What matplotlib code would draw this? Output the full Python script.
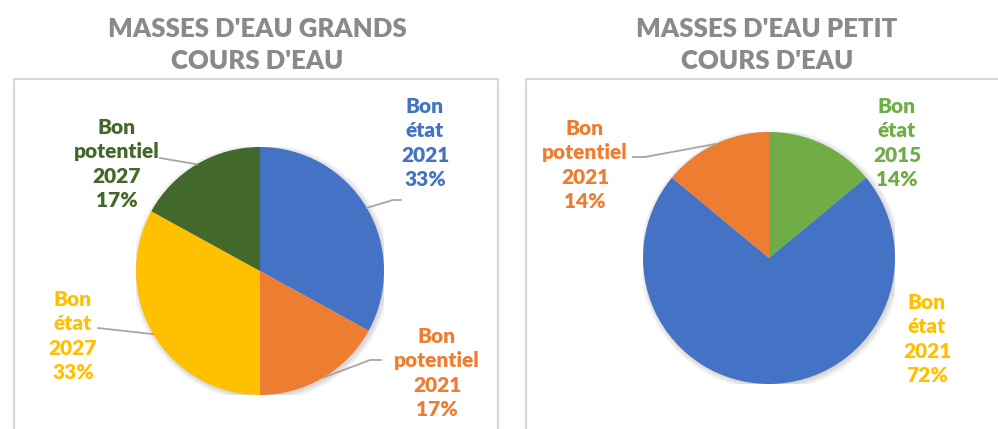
import numpy as np
import matplotlib
matplotlib.use("Agg")
import matplotlib.pyplot as plt
from matplotlib.patches import Rectangle

plt.rcParams['font.family'] = ['Lato', 'DejaVu Sans']

# --- data -------------------------------------------------------------
grands_labels = ["Bon\nétat\n2021", "Bon\npotentiel\n2021", "Bon\nétat\n2027", "Bon\npotentiel\n2027"]
grands_values = [33, 17, 33, 17]
grands_colors = ["#4472C4", "#ED7D31", "#FFC000", "#43682B"]
grands_text_colors = ["#4472C4", "#ED7D31", "#FFC000", "#43682B"]

petit_labels = ["Bon\nétat\n2015", "Bon\nétat\n2021", "Bon\npotentiel\n2021"]
petit_values = [14, 72, 14]
petit_colors = ["#70AD47", "#4472C4", "#ED7D31"]
petit_text_colors = ["#70AD47", "#FFC000", "#ED7D31"]

titles = ["MASSES D'EAU GRANDS\nCOURS D'EAU", "MASSES D'EAU PETIT\nCOURS D'EAU"]

W, H = 998, 429
fig = plt.figure(figsize=(W / 100, H / 100), dpi=100)
fig.patch.set_facecolor("white")


def fx(px):
    return px / W


def fy(py):
    return 1 - py / H


# panel frames
for x0, x1 in [(14, 498), (525.5, 1010)]:
    fig.patches.append(Rectangle((fx(x0), fy(440)), fx(x1) - fx(x0), fy(79) - fy(440),
                                 transform=fig.transFigure, fill=False,
                                 edgecolor="#D9D9D9", linewidth=1.6, zorder=0))

# titles
for cx, t in [(257, titles[0]), (767, titles[1])]:
    fig.text(fx(cx), fy(45), t, ha="center", va="center", fontsize=18.5,
             fontweight="heavy", color="#8A8A8A", linespacing=1.4)


def pie_axes(cx, cy, r):
    ax = fig.add_axes([fx(cx - r), fy(cy + r), 2 * r / W, 2 * r / H])
    ax.set_xlim(-1, 1)
    ax.set_ylim(-1, 1)
    ax.set_axis_off()
    return ax


def draw_pie(ax, values, colors):
    # soft shadow under the disc
    for k in range(8):
        c = plt.Circle((0.012, -0.012), 1.0 + 0.006 * k, color="#000000",
                       alpha=0.018, lw=0, zorder=0)
        ax.add_patch(c)
    ax.pie(values, colors=colors, startangle=90, counterclock=False, radius=1.0,
           wedgeprops=dict(linewidth=0, antialiased=True))
    ax.set_xlim(-1, 1)
    ax.set_ylim(-1, 1)
    ax.set_aspect("auto")
    total = float(sum(values))
    mids = []
    acc = 0.0
    for v in values:
        ang = np.deg2rad(90 - 360 * (acc + v / 2) / total)
        mids.append((np.cos(ang), np.sin(ang)))
        acc += v
    return mids


def to_data(px, py, cx, cy, r):
    return ((px - cx) / r, (cy - py) / r)


def label(ax, text, color, px, py, cx, cy, r):
    x, y = to_data(px, py, cx, cy, r)
    ax.text(x, y, text, ha="center", va="center", fontsize=15, fontweight="heavy",
            color=color, linespacing=1.33, clip_on=False)


def leader(ax, pts, cx, cy, r, mid):
    xs = [mid[0]] + [to_data(p[0], p[1], cx, cy, r)[0] for p in pts]
    ys = [mid[1]] + [to_data(p[0], p[1], cx, cy, r)[1] for p in pts]
    ax.plot(xs, ys, color="#A6A6A6", lw=1.3, clip_on=False, zorder=5)


# --- left pie ---------------------------------------------------------
cxL, cyL, rL = 260, 271, 124
axL = pie_axes(cxL, cyL, rL)
midsL = draw_pie(axL, grands_values, grands_colors)
pctL = [f"{v}%" for v in grands_values]
label_posL = [(425, 143), (437, 373), (73, 336), (117, 164)]
for i, (px, py) in enumerate(label_posL):
    label(axL, grands_labels[i] + "\n" + pctL[i], grands_text_colors[i], px, py, cxL, cyL, rL)
leader(axL, [(393, 200), (401, 200)], cxL, cyL, rL, midsL[0])
leader(axL, [(370, 360), (381, 360)], cxL, cyL, rL, midsL[1])
leader(axL, [(98, 328)], cxL, cyL, rL, midsL[2])
leader(axL, [(160, 158)], cxL, cyL, rL, midsL[3])

# --- right pie --------------------------------------------------------
cxR, cyR, rR = 769, 258, 126
axR = pie_axes(cxR, cyR, rR)
midsR = draw_pie(axR, petit_values, petit_colors)
pctR = [f"{v}%" for v in petit_values]
label_posR = [(897, 143), (927, 339), (585, 165)]
for i, (px, py) in enumerate(label_posR):
    label(axR, petit_labels[i] + "\n" + pctR[i], petit_text_colors[i], px, py, cxR, cyR, rR)
leader(axR, [(645, 157), (633, 157)], cxR, cyR, rR, midsR[2])

fig.savefig("out.png", dpi=100, facecolor="white")
